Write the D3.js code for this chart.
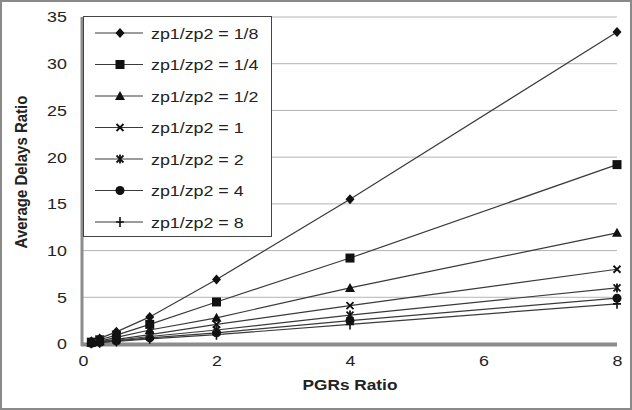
<!DOCTYPE html>
<html>
<head>
<meta charset="utf-8">
<script src="https://cdn.jsdelivr.net/npm/d3@7"></script>
<style>
  body { margin: 0; background: #fff; }
  svg { display: block; font-family: "Liberation Sans", Arial, sans-serif; }
</style>
</head>
<body>
<div class="main"></div>
<script>
// PGRs ratio (x) and average delay ratio for each zp1/zp2 setting
var pgrs = [0.125, 0.25, 0.5, 1, 2, 4, 8];
var seriesNames = ["zp1/zp2 = 1/8", "zp1/zp2 = 1/4", "zp1/zp2 = 1/2", "zp1/zp2 = 1",
                   "zp1/zp2 = 2", "zp1/zp2 = 4", "zp1/zp2 = 8"];
var d_1_8 = [0.3, 0.6, 1.3, 2.9, 6.9, 15.5, 33.4];
var d_1_4 = [0.2, 0.45, 0.95, 2.1, 4.5, 9.2, 19.2];
var d_1_2 = [0.15, 0.3, 0.7, 1.5, 2.8, 6.0, 11.9];
var d_1   = [0.12, 0.25, 0.5, 1.0, 2.1, 4.1, 8.0];
var d_2   = [0.1, 0.2, 0.4, 0.8, 1.5, 3.1, 6.0];
var d_4   = [0.08, 0.17, 0.33, 0.65, 1.2, 2.5, 4.9];
var d_8   = [0.07, 0.14, 0.28, 0.55, 1.0, 2.1, 4.3];
var markers = ["diamond", "square", "triangle", "x", "asterisk", "circle", "plus"];
var xTicks = [0, 2, 4, 6, 8];
var yTicks = [0, 5, 10, 15, 20, 25, 30, 35];

var W = 632, H = 410;
var stretch = 1.15; // source text looks horizontally widened

var x = d3.scaleLinear().domain([0, 8]).range([83, 617]);
var y = d3.scaleLinear().domain([0, 35]).range([344, 17]);

var svg = d3.select(".main").append("svg")
    .attr("width", W).attr("height", H);

svg.append("rect")
    .attr("x", 1).attr("y", 1).attr("width", W - 2).attr("height", H - 2)
    .attr("fill", "#fff").attr("stroke", "#8a8a8a").attr("stroke-width", 2);

// gridlines
svg.append("g").selectAll("line")
    .data(yTicks.filter(function(d) { return d > 0; }))
    .enter().append("line")
    .attr("x1", x(0)).attr("x2", x(8))
    .attr("y1", function(d) { return y(d); })
    .attr("y2", function(d) { return y(d); })
    .attr("stroke", "#b4b4b4").attr("stroke-width", 1);

// axes (labels only; lines drawn below)
var yAxis = svg.append("g")
    .attr("transform", "translate(" + x(0) + ",0)")
    .call(d3.axisLeft(y).tickValues(yTicks).tickSize(0).tickPadding(14));
var xAxis = svg.append("g")
    .attr("transform", "translate(0," + y(0) + ")")
    .call(d3.axisBottom(x).tickValues(xTicks).tickSize(0).tickPadding(11));
[yAxis, xAxis].forEach(function(a) {
    a.select(".domain").remove();
    a.selectAll("text")
        .attr("font-size", 15.5)
        .attr("font-family", "Liberation Sans, Arial, sans-serif")
        .attr("fill", "#222")
        .attr("transform", "scale(" + stretch + ",1)");
});

svg.append("line")
    .attr("x1", x(0) - 1).attr("x2", x(0) - 1)
    .attr("y1", y(35)).attr("y2", y(0) + 2)
    .attr("stroke", "#8c8c8c").attr("stroke-width", 3);
svg.append("line")
    .attr("x1", x(0) - 2).attr("x2", x(8))
    .attr("y1", y(0) + 0.5).attr("y2", y(0) + 0.5)
    .attr("stroke", "#8c8c8c").attr("stroke-width", 4);

// axis titles
svg.append("text")
    .attr("transform", "translate(350,390) scale(" + stretch + ",1)")
    .attr("text-anchor", "middle")
    .attr("font-size", 15).attr("font-weight", "bold").attr("fill", "#222")
    .text("PGRs Ratio");
svg.append("text")
    .attr("transform", "translate(27,172) scale(" + stretch + ",1) rotate(-90)")
    .attr("text-anchor", "middle")
    .attr("font-size", 15).attr("font-weight", "bold").attr("fill", "#222")
    .text("Average Delays Ratio");

function drawMarker(g, type) {
    var col = "#111";
    switch (type) {
        case "diamond":
            g.append("path").attr("d", "M0,-5L4.5,0L0,5L-4.5,0Z").attr("fill", col);
            break;
        case "square":
            g.append("rect").attr("x", -4.5).attr("y", -4.5).attr("width", 9).attr("height", 9).attr("fill", col);
            break;
        case "triangle":
            g.append("path").attr("d", "M0,-5L5,4L-5,4Z").attr("fill", col);
            break;
        case "x":
            g.append("path").attr("d", "M-3.5,-3.5L3.5,3.5M-3.5,3.5L3.5,-3.5")
                .attr("stroke", col).attr("stroke-width", 1.8);
            break;
        case "asterisk":
            g.append("path").attr("d", "M-3.5,-3.5L3.5,3.5M-3.5,3.5L3.5,-3.5M0,-4.5L0,4.5")
                .attr("stroke", col).attr("stroke-width", 1.8);
            break;
        case "circle":
            g.append("circle").attr("r", 4.5).attr("fill", col);
            break;
        case "plus":
            g.append("path").attr("d", "M0,-5L0,5M-4,0L4,0")
                .attr("stroke", col).attr("stroke-width", 1.6);
            break;
    }
}

var allSeries = [d_1_8, d_1_4, d_1_2, d_1, d_2, d_4, d_8];
var line = d3.line()
    .x(function(d) { return x(d[0]); })
    .y(function(d) { return y(d[1]); });

// draw from bottom series upward so the big markers sit on top
allSeries.slice().reverse().forEach(function(vals, ri) {
    var i = allSeries.length - 1 - ri;
    var pts = pgrs.map(function(p, j) { return [p, vals[j]]; });
    svg.append("path")
        .datum(pts)
        .attr("d", line)
        .attr("fill", "none")
        .attr("stroke", "#3a3a3a")
        .attr("stroke-width", 1.2);
    pts.forEach(function(p) {
        var g = svg.append("g").attr("transform", "translate(" + x(p[0]) + "," + y(p[1]) + ")");
        drawMarker(g, markers[i]);
    });
});

// legend
var legend = svg.append("g");
legend.append("rect")
    .attr("x", 83.5).attr("y", 16.5).attr("width", 188).attr("height", 220)
    .attr("fill", "#fff").attr("stroke", "#444").attr("stroke-width", 1);
seriesNames.forEach(function(name, i) {
    var cy = 33 + i * 31.5;
    legend.append("line")
        .attr("x1", 95).attr("x2", 143).attr("y1", cy).attr("y2", cy)
        .attr("stroke", "#3a3a3a").attr("stroke-width", 1.2);
    drawMarker(legend.append("g").attr("transform", "translate(120," + cy + ")"), markers[i]);
    legend.append("text")
        .attr("transform", "translate(151," + (cy + 5.5) + ") scale(" + stretch + ",1)")
        .attr("font-size", 15.5).attr("fill", "#222")
        .text(name);
});
</script>
</body>
</html>
